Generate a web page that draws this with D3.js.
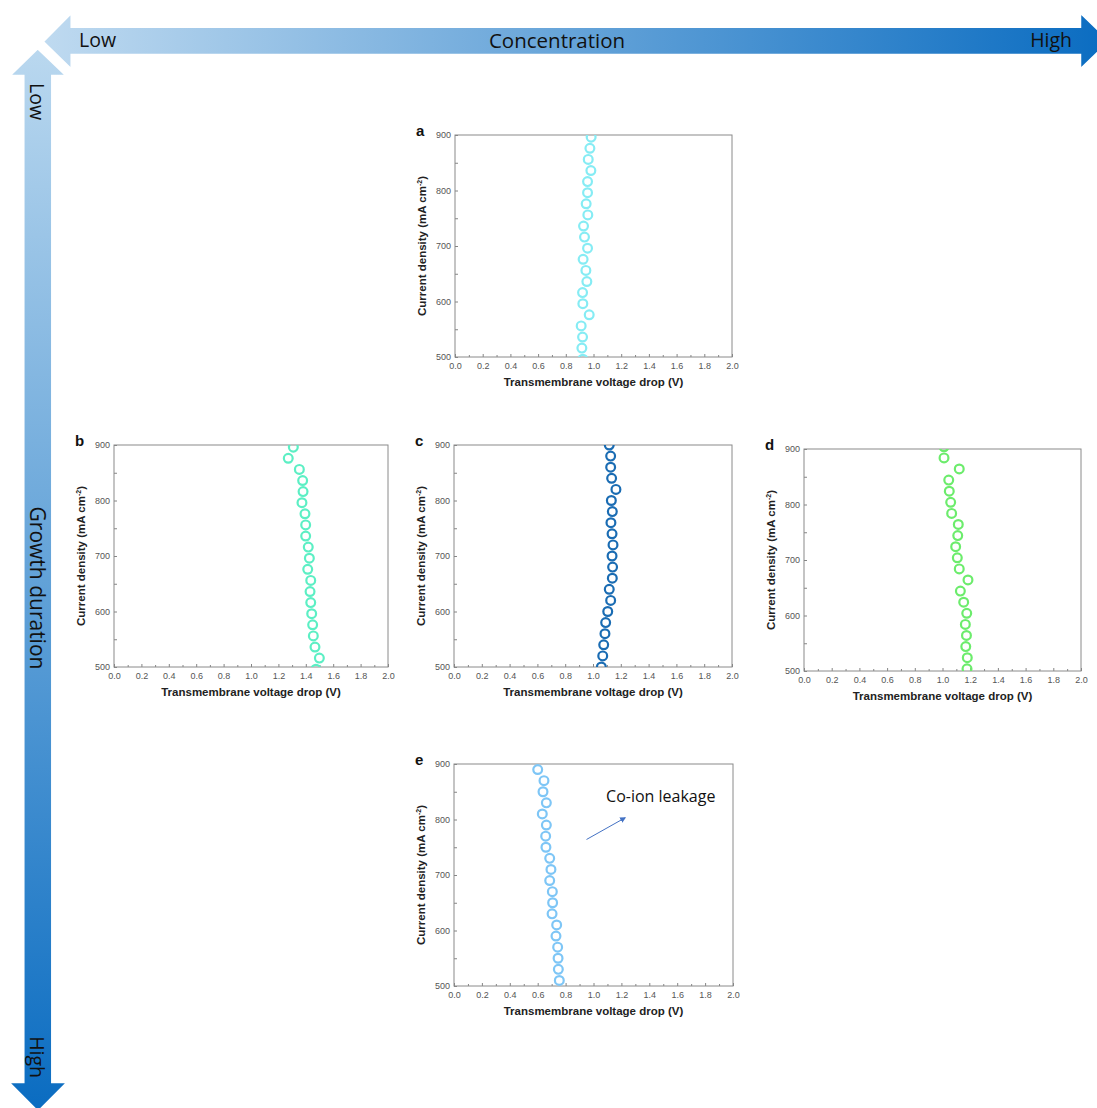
<!DOCTYPE html>
<html>
<head>
<meta charset="utf-8">
<script src="https://cdn.jsdelivr.net/npm/d3@7"></script>
<style>
  body { margin: 0; background: #fff; }
</style>
</head>
<body>
<svg id="fig" width="1097" height="1108"></svg>
<script>
// values (current density in mA cm-2, voltage drop in V)
var currentA = [896, 876, 856, 836, 816, 796, 776, 756, 736, 716, 696, 676, 656, 636, 616, 596, 576, 556, 536, 516, 496];
var voltA = [0.983, 0.974, 0.962, 0.981, 0.957, 0.957, 0.947, 0.959, 0.928, 0.935, 0.957, 0.925, 0.945, 0.952, 0.921, 0.923, 0.969, 0.911, 0.921, 0.916, 0.923];

var currentB = [896, 876, 856, 836, 816, 796, 776, 756, 736, 716, 696, 676, 656, 636, 616, 596, 576, 556, 536, 516, 496];
var voltB = [1.309, 1.272, 1.353, 1.377, 1.380, 1.372, 1.394, 1.399, 1.399, 1.418, 1.426, 1.414, 1.436, 1.431, 1.436, 1.443, 1.450, 1.455, 1.467, 1.499, 1.474];

var currentC = [900, 880, 860, 840, 820, 800, 780, 760, 740, 720, 700, 680, 660, 640, 620, 600, 580, 560, 540, 520, 500];
var voltC = [1.117, 1.127, 1.127, 1.134, 1.165, 1.132, 1.139, 1.129, 1.137, 1.144, 1.137, 1.141, 1.139, 1.117, 1.127, 1.106, 1.091, 1.086, 1.077, 1.070, 1.060];

var currentD = [904, 884, 864, 844, 824, 804, 784, 764, 744, 724, 704, 684, 664, 644, 624, 604, 584, 564, 544, 524, 504];
var voltD = [1.011, 1.011, 1.121, 1.045, 1.049, 1.059, 1.066, 1.114, 1.110, 1.095, 1.107, 1.121, 1.184, 1.129, 1.153, 1.175, 1.165, 1.173, 1.168, 1.179, 1.177];

var currentE = [890, 870, 850, 830, 810, 790, 770, 750, 730, 710, 690, 670, 650, 630, 610, 590, 570, 550, 530, 510];
var voltE = [0.600, 0.645, 0.638, 0.662, 0.633, 0.662, 0.657, 0.659, 0.686, 0.695, 0.686, 0.705, 0.707, 0.703, 0.736, 0.731, 0.743, 0.746, 0.748, 0.755];

var xTicks = [0.0, 0.2, 0.4, 0.6, 0.8, 1.0, 1.2, 1.4, 1.6, 1.8, 2.0];
var yTicks = [500, 600, 700, 800, 900];

var svg = d3.select("#fig");
var defs = svg.append("defs");

// ---- the two big gradient arrows ----
var gH = defs.append("linearGradient").attr("id", "gradH")
  .attr("x1", "0%").attr("x2", "100%").attr("y1", "0%").attr("y2", "0%");
gH.append("stop").attr("offset", "0%").attr("stop-color", "#bfdaf0");
gH.append("stop").attr("offset", "100%").attr("stop-color", "#0a6cc1");
var gV = defs.append("linearGradient").attr("id", "gradV")
  .attr("x1", "0%").attr("x2", "0%").attr("y1", "0%").attr("y2", "100%");
gV.append("stop").attr("offset", "0%").attr("stop-color", "#bad8ef");
gV.append("stop").attr("offset", "100%").attr("stop-color", "#0a6cc1");

svg.append("path")
  .attr("d", "M9,76 L37.7,48 L67,76 L52.3,76 L52.3,1082 L68,1082 L38,1112 L8,1082 L23.3,1082 L23.3,76 Z")
  .attr("fill", "url(#gradV)")
  .attr("stroke", "#fff").attr("stroke-width", 2.5);
svg.append("path")
  .attr("d", "M42.7,41.7 L71.7,12.3 L71.7,26.7 L1080,26.7 L1080,12 L1110,41 L1080,70 L1080,55 L71.7,55 L71.7,70 Z")
  .attr("fill", "url(#gradH)")
  .attr("stroke", "#fff").attr("stroke-width", 2.5);

var arrowFont = "'Open Sans', 'Noto Sans', sans-serif";
svg.append("text").attr("x", 79).attr("y", 47).text("Low")
  .attr("font-family", arrowFont).attr("font-size", 19.5).attr("fill", "#111");
svg.append("text").attr("x", 557).attr("y", 48).attr("text-anchor", "middle").text("Concentration")
  .attr("font-family", arrowFont).attr("font-size", 20.5).attr("fill", "#111");
svg.append("text").attr("x", 1072).attr("y", 47).attr("text-anchor", "end").text("High")
  .attr("font-family", arrowFont).attr("font-size", 19.5).attr("fill", "#111");

[["Low", 83, "start"], ["Growth duration", 588, "middle"], ["High", 1078, "end"]].forEach(function(t) {
  svg.append("text")
    .attr("transform", "translate(30," + t[1] + ") rotate(90)")
    .attr("text-anchor", t[2])
    .attr("font-family", arrowFont).attr("font-size", t[0] === "Growth duration" ? 21 : 19.5).attr("fill", "#111")
    .text(t[0]);
});

// ---- panels ----
var panels = [
  { id: "a", left: 455, top: 135, w: 277, h: 222, volt: voltA, cur: currentA, color: "#86ecf4" },
  { id: "b", left: 114, top: 445, w: 274, h: 222, volt: voltB, cur: currentB, color: "#5cefc4" },
  { id: "c", left: 454, top: 445, w: 278, h: 222, volt: voltC, cur: currentC, color: "#1a6cb3" },
  { id: "d", left: 804, top: 449, w: 277, h: 222, volt: voltD, cur: currentD, color: "#6cec6c" },
  { id: "e", left: 454, top: 764, w: 279, h: 222, volt: voltE, cur: currentE, color: "#7ec6f6" }
];

var tickFont = "'Liberation Sans', Arial, sans-serif";

panels.forEach(function(p) {
  var g = svg.append("g").attr("transform", "translate(" + p.left + "," + p.top + ")");
  var x = d3.scaleLinear().domain([0, 2]).range([0, p.w]);
  var y = d3.scaleLinear().domain([500, 900]).range([p.h, 0]);

  defs.append("clipPath").attr("id", "clip-" + p.id)
    .append("rect").attr("width", p.w).attr("height", p.h);

  // axes with inward ticks
  g.append("g").attr("transform", "translate(0," + p.h + ")")
    .call(d3.axisBottom(x).tickValues(xTicks).tickSizeInner(-3).tickSizeOuter(0).tickPadding(6)
      .tickFormat(d3.format(".1f")));
  g.append("g").attr("transform", "translate(0," + p.h + ")")
    .call(d3.axisBottom(x).tickValues(d3.range(0.1, 2, 0.2)).tickSize(-2).tickFormat(""));
  g.append("g")
    .call(d3.axisLeft(y).tickValues(yTicks).tickSizeInner(-3).tickSizeOuter(0).tickPadding(4));
  g.append("g")
    .call(d3.axisLeft(y).tickValues([550, 650, 750, 850]).tickSize(-3).tickFormat(""));

  g.selectAll(".domain").remove();
  g.selectAll(".tick line").attr("stroke", "#666").attr("stroke-width", 0.8);
  g.selectAll(".tick text").attr("font-family", tickFont).attr("font-size", 9).attr("fill", "#555");

  g.append("rect").attr("width", p.w).attr("height", p.h)
    .attr("fill", "none").attr("stroke", "#8a8a8a").attr("stroke-width", 1);

  // points
  var pts = p.volt.map(function(v, i) { return { v: v, j: p.cur[i] }; });
  g.append("g").attr("clip-path", "url(#clip-" + p.id + ")")
    .selectAll("circle").data(pts).enter().append("circle")
    .attr("cx", function(d) { return x(d.v); })
    .attr("cy", function(d) { return y(d.j); })
    .attr("r", 4.4)
    .attr("fill", "none")
    .attr("stroke", p.color)
    .attr("stroke-width", 2.2);

  // labels
  g.append("text").attr("x", p.w / 2).attr("y", p.h + 29).attr("text-anchor", "middle")
    .attr("font-family", tickFont).attr("font-weight", "bold").attr("font-size", 11.5).attr("fill", "#222")
    .text("Transmembrane voltage drop (V)");
  var yl = g.append("text")
    .attr("transform", "translate(-29," + (p.h / 2) + ") rotate(-90)")
    .attr("text-anchor", "middle")
    .attr("font-family", tickFont).attr("font-weight", "bold").attr("font-size", 11.5).attr("fill", "#222");
  yl.append("tspan").text("Current density (mA cm");
  yl.append("tspan").attr("font-size", 7).attr("dy", -4.5).text("-2");
  yl.append("tspan").attr("dy", 4.5).text(")");

  g.append("text").attr("x", -39).attr("y", 1)
    .attr("font-family", tickFont).attr("font-weight", "bold").attr("font-size", 15).attr("fill", "#111")
    .text(p.id);

  if (p.id === "e") {
    defs.append("marker").attr("id", "tri").attr("viewBox", "0 0 10 10")
      .attr("refX", 8).attr("refY", 5).attr("markerWidth", 6).attr("markerHeight", 6)
      .attr("orient", "auto")
      .append("path").attr("d", "M0,0 L10,5 L0,10 Z").attr("fill", "#4472c4");
    g.append("line")
      .attr("x1", x(0.95)).attr("y1", y(764))
      .attr("x2", x(1.226)).attr("y2", y(803))
      .attr("stroke", "#4472c4").attr("stroke-width", 1)
      .attr("marker-end", "url(#tri)");
    g.append("text").attr("x", x(1.09)).attr("y", y(831))
      .attr("font-family", arrowFont).attr("font-size", 16).attr("fill", "#111")
      .text("Co-ion leakage");
  }
});
</script>
</body>
</html>
